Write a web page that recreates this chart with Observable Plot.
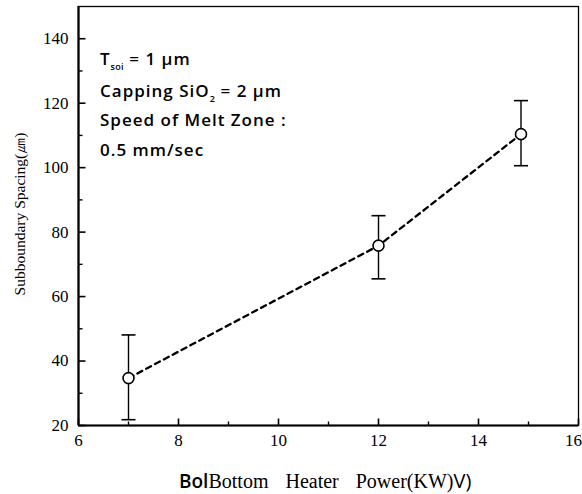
<!DOCTYPE html>
<html>
<head>
<meta charset="utf-8">
<script src="https://cdn.jsdelivr.net/npm/d3@7"></script>
<script src="https://cdn.jsdelivr.net/npm/@observablehq/plot@0.6"></script>
<style>
  html, body { margin: 0; padding: 0; background: white; }
</style>
</head>
<body>
<div id="chart"></div>
<script>
// Data
const power = [7, 12, 14.85];          // Bottom heater power (KW)
const spacing = [34.7, 75.8, 110.4];   // Subboundary spacing (µm)
const errLow = [21.8, 65.5, 100.6];
const errHigh = [48.1, 85.1, 120.8];

const xTicks = [6, 8, 10, 12, 14, 16];
const xMinor = [7, 9, 11, 13, 15];
const yTicks = [20, 40, 60, 80, 100, 120, 140];
const yMinor = [30, 50, 70, 90, 110, 130];

const notes = ["T_{soi} = 1 µm", "Capping SiO_{2} = 2 µm", "Speed of Melt Zone :", "0.5 mm/sec"];
const yLabel = "Subboundary Spacing(㎛)";
const xLabelParts = ["Bol", "Bottom Heater Power(KW)", "V)"];

const data = power.map((p, i) => ({p, s: spacing[i], lo: errLow[i], hi: errHigh[i]}));

const capSymbol = {
  draw(ctx, size) {
    const r = Math.sqrt(size / Math.PI);
    ctx.moveTo(-r, 0);
    ctx.lineTo(r, 0);
  }
};
const tickUp = {
  draw(ctx, size) {
    const r = Math.sqrt(size / Math.PI);
    ctx.moveTo(0, 0);
    ctx.lineTo(0, -r);
  }
};
const tickRight = {
  draw(ctx, size) {
    const r = Math.sqrt(size / Math.PI);
    ctx.moveTo(0, 0);
    ctx.lineTo(r, 0);
  }
};

const sans = "'Open Sans', 'DejaVu Sans', sans-serif";
const serif = "'Liberation Serif', 'Times New Roman', serif";

const chart = Plot.plot({
  width: 582,
  height: 494,
  marginLeft: 78,
  marginRight: 4,
  marginTop: 6,
  marginBottom: 69,
  style: {fontFamily: serif, fontSize: "17px", background: "white", color: "black"},
  x: {domain: [6, 16], axis: null},
  y: {domain: [20, 150], axis: null},
  marks: [
    Plot.frame({stroke: "black", strokeWidth: 1.3}),
    Plot.ruleX([6], {stroke: "black", strokeWidth: 2.2}),
    Plot.ruleY([20], {stroke: "black", strokeWidth: 2.2}),
    // inward ticks
    Plot.dot(xTicks, {x: d => d, y: 20, symbol: tickUp, r: 7, stroke: "black", strokeWidth: 1.6}),
    Plot.dot(xMinor, {x: d => d, y: 20, symbol: tickUp, r: 4, stroke: "black", strokeWidth: 1.4}),
    Plot.dot(yTicks, {x: 6, y: d => d, symbol: tickRight, r: 7, stroke: "black", strokeWidth: 1.6}),
    Plot.dot(yMinor, {x: 6, y: d => d, symbol: tickRight, r: 4, stroke: "black", strokeWidth: 1.4}),
    // tick labels (text marks anchored to the frame edges)
    Plot.text(xTicks, {x: d => d, frameAnchor: "bottom", dy: 20, text: d => String(d), fontSize: 17, fontFamily: serif, className: "xt"}),
    Plot.text(yTicks, {y: d => d, frameAnchor: "left", dx: -10, textAnchor: "end", text: d => String(d), fontSize: 17, fontFamily: serif, className: "yt"}),
    // error bars
    Plot.ruleX(data, {x: "p", y1: "lo", y2: "hi", stroke: "black", strokeWidth: 1.4}),
    Plot.dot(data, {x: "p", y: "lo", symbol: capSymbol, r: 7, stroke: "black", strokeWidth: 1.6}),
    Plot.dot(data, {x: "p", y: "hi", symbol: capSymbol, r: 7, stroke: "black", strokeWidth: 1.6}),
    // dashed line
    Plot.line(data, {x: "p", y: "s", stroke: "black", strokeWidth: 2.3, strokeDasharray: "5.5,4.5"}),
    Plot.dot(data, {x: "p", y: "s", r: 5.5, fill: "white", stroke: "black", strokeWidth: 1.6}),
    // annotation
    Plot.text(notes, {
      text: d => d,
      frameAnchor: "top-left",
      textAnchor: "start",
      fontSize: 17,
      fontWeight: 600,
      fontFamily: sans,
      className: "note"
    }),
    // y label
    Plot.text([yLabel], {
      text: d => d,
      frameAnchor: "left",
      fontSize: 15.5,
      fontFamily: serif,
      className: "ylab"
    }),
    // x label
    Plot.text([xLabelParts.join("|")], {
      text: d => d,
      frameAnchor: "bottom-left",
      textAnchor: "start",
      fontSize: 20,
      className: "xlab"
    })
  ]
});

const svg = d3.select(chart);
function place(node, x, y, rot) {
  node.parentNode.removeAttribute("transform");
  node.removeAttribute("x");
  node.removeAttribute("y");
  node.removeAttribute("dy");
  node.setAttribute("transform", `translate(${x},${y})` + (rot ? ` rotate(${rot})` : ""));
}

// nudge the last x tick label inside the page
const xtLabels = svg.selectAll("g.xt text").nodes();
if (xtLabels.length) xtLabels[xtLabels.length - 1].setAttribute("dx", -5);

// annotation with subscripts
const baselines = [65, 97, 126, 156];
svg.selectAll("g.note text").nodes().forEach((node, i) => {
  const raw = node.textContent;
  place(node, 100, baselines[i]);
  node.textContent = "";
  node.setAttribute("letter-spacing", 1);
  const parts = raw.split(/_\{(.+?)\}/);
  parts.forEach((part, j) => {
    const t = d3.select(node).append("tspan").text(part);
    if (j % 2 === 1) t.attr("font-size", 9).attr("dy", 5).attr("letter-spacing", 0.3);
    else if (j > 0) t.attr("dy", -5);
  });
});

// y label
const yl = svg.select("g.ylab text").node();
if (yl) {
  place(yl, 25, 214, -90);
  yl.setAttribute("text-anchor", "middle");
}

// x label
const xl = svg.select("g.xlab text").node();
if (xl) {
  const parts = xl.textContent.split("|");
  xl.textContent = "";
  place(xl, 179, 488);
  d3.select(xl).append("tspan").text(parts[0])
    .attr("font-family", sans).attr("font-weight", 600).attr("font-size", 19);
  d3.select(xl).append("tspan").text(parts[1])
    .attr("font-family", serif).attr("font-size", 20).attr("word-spacing", 12);
  d3.select(xl).append("tspan").text(parts[2])
    .attr("font-family", sans).attr("font-size", 20);
}

document.getElementById("chart").appendChild(chart);
</script>
</body>
</html>
